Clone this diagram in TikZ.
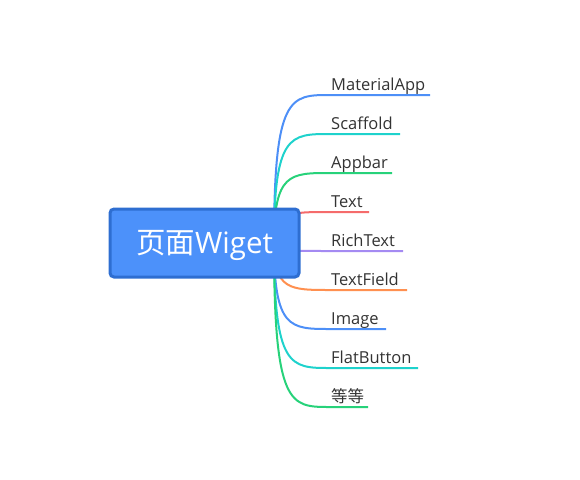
\documentclass[tikz,border=0pt]{standalone}
\usepackage{fontspec}
\setmainfont{Open Sans}
\newfontfamily\cjkfont{Noto Sans CJK SC}
\definecolor{cblue}{HTML}{4D8FF7}
\definecolor{cteal}{HTML}{1ED2CC}
\definecolor{cgreen}{HTML}{27D27A}
\definecolor{cred}{HTML}{F56B6B}
\definecolor{cpurple}{HTML}{A48AF2}
\definecolor{corange}{HTML}{FF9050}
\definecolor{boxfill}{HTML}{4C91FA}
\definecolor{boxdraw}{HTML}{2E6ED1}
\definecolor{txt}{HTML}{333333}
\begin{document}
\begin{tikzpicture}[x=1pt,y=-1pt,
  lbl/.style={anchor=base west,inner sep=0pt,text=txt,font=\fontsize{16.5}{18}\selectfont},
  branch/.style={line width=2pt},
  rootbox/.style={draw=boxdraw,fill=boxfill,line width=3pt,rounded corners=4pt,
    minimum width=189pt,minimum height=68pt,text=white,inner sep=0pt,
    text height=20.6pt,text depth=0pt,
    font=\fontsize{29.5}{31}\selectfont}]
\useasboundingbox (0,0) rectangle (580,479);
\coordinate (hub) at (274,243);
\foreach \n/\y/\e/\c/\t in {
  a/95/430/cblue/MaterialApp,
  b/134/400/cteal/Scaffold,
  c/173/392/cgreen/Appbar,
  d/212/369/cred/Text,
  e/251/403/cpurple/RichText,
  f/290/407/corange/TextField,
  g/329/386/cblue/Image,
  h/368/418/cteal/FlatButton}{
  \coordinate (k\n) at (330,\y);
  \coordinate (e\n) at (\e,\y);
  \node[lbl] (l\n) at (331,\y-4.5) {\t};
  \draw[branch,\c] (hub) .. controls (274,\y) and (290,\y) .. (k\n) -- (e\n);
}
\coordinate (ki) at (330,407);
\coordinate (ei) at (368,407);
\node[lbl] (li) at (331,402.5) {\cjkfont 等等};
\draw[branch,cgreen] (hub) .. controls (274,407) and (290,407) .. (ki) -- (ei);
\node[rootbox] (root) at (204.5,243) {{\cjkfont 页面}Wiget};
\end{tikzpicture}
\end{document}
